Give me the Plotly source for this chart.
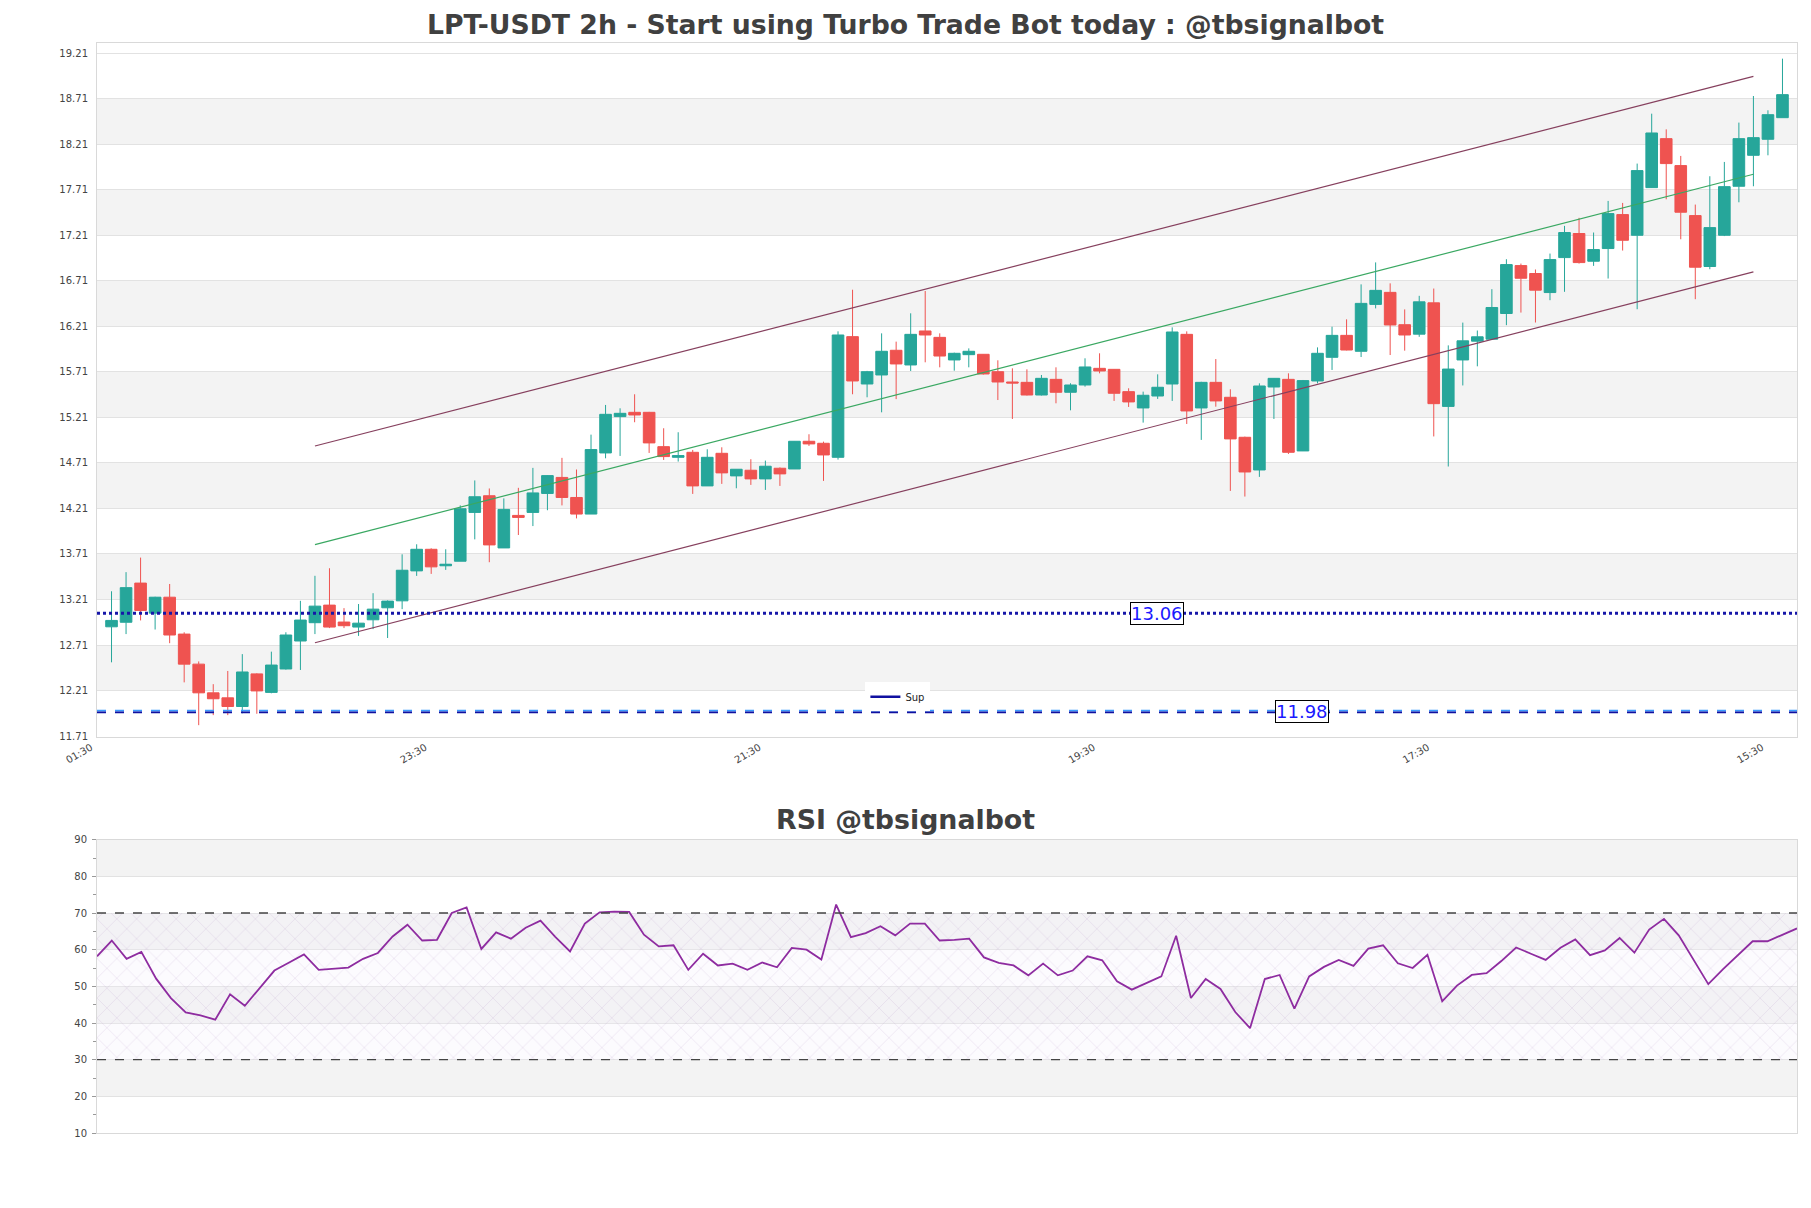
import pandas as pd
import plotly.graph_objects as go

# ---------------- data ----------------
first_candle = "2024-03-10 03:30"
n_candles = 116

opens = [12.91, 12.96, 13.39, 13.06, 13.235, 12.83, 12.50, 12.185, 12.13, 12.035,
         12.393, 12.19, 12.447, 12.754, 12.955, 13.148, 12.962, 12.907, 12.987, 13.119,
         13.195, 13.524, 13.761, 13.58, 13.63, 14.166, 14.349, 13.776, 14.133, 14.166,
         14.374, 14.55, 14.33, 14.148, 14.819, 15.218, 15.265, 15.265, 14.888, 14.771,
         14.826, 14.457, 14.815, 14.567, 14.629, 14.534, 14.651, 14.643, 14.947, 14.925,
         14.771, 16.096, 15.576, 15.675, 15.946, 15.785, 16.158, 16.088, 15.84, 15.898,
         15.902, 15.711, 15.598, 15.594, 15.455, 15.627, 15.485, 15.565, 15.748, 15.737,
         15.492, 15.313, 15.444, 15.576, 16.121, 15.313, 15.594, 15.43, 14.991, 14.632,
         15.543, 15.627, 14.841, 15.609, 15.869, 16.11, 15.935, 16.45, 16.582, 16.227,
         16.123, 16.467, 15.33, 15.84, 16.046, 16.068, 16.35, 16.876, 16.789, 16.58,
         16.964, 17.228, 16.924, 17.063, 17.436, 17.209, 17.732, 18.27, 17.974, 17.425,
         16.866, 17.209, 17.747, 18.087, 18.263, 18.50]
highs = [13.30, 13.51, 13.67, 13.24, 13.38, 12.85, 12.53, 12.28, 12.425, 12.61,
         12.40, 12.637, 12.85, 13.195, 13.47, 13.553, 13.115, 13.16, 13.279, 13.20,
         13.706, 13.816, 13.772, 13.761, 14.243, 14.517, 14.429, 14.32, 14.436, 14.655,
         14.575, 14.765, 14.637, 15.02, 15.346, 15.309, 15.463, 15.27, 15.09, 15.046,
         14.852, 14.859, 14.881, 14.64, 14.75, 14.735, 14.66, 14.95, 15.024, 14.943,
         16.154, 16.611, 15.72, 16.132, 16.041, 16.352, 16.597, 16.132, 15.92, 15.967,
         15.905, 15.836, 15.748, 15.737, 15.675, 15.759, 15.584, 15.858, 15.913, 15.74,
         15.529, 15.492, 15.682, 16.198, 16.154, 15.60, 15.85, 15.518, 14.998, 15.583,
         15.64, 15.693, 15.62, 15.978, 16.205, 16.286, 16.67, 16.911, 16.681, 16.395,
         16.544, 16.624, 16.0, 16.25, 16.163, 16.617, 16.946, 16.898, 16.833, 17.008,
         17.312, 17.40, 17.239, 17.586, 17.564, 17.996, 18.544, 18.372, 18.08, 17.546,
         17.857, 18.014, 18.446, 18.738, 18.581, 19.148]
lows = [12.52, 12.83, 12.98, 12.88, 12.73, 12.30, 11.83, 11.94, 11.94, 11.96,
        11.955, 12.18, 12.44, 12.436, 12.83, 12.896, 12.896, 12.81, 12.885, 12.787,
        13.104, 13.469, 13.491, 13.535, 13.63, 13.87, 13.619, 13.776, 13.918, 14.016,
        14.19, 14.243, 14.10, 14.148, 14.76, 14.786, 15.156, 14.819, 14.742, 14.724,
        14.369, 14.457, 14.479, 14.431, 14.468, 14.413, 14.457, 14.643, 14.896, 14.512,
        14.746, 15.463, 15.43, 15.265, 15.41, 15.719, 15.814, 15.759, 15.722, 15.759,
        15.68, 15.40, 15.192, 15.45, 15.45, 15.364, 15.287, 15.547, 15.693, 15.39,
        15.324, 15.152, 15.412, 15.39, 15.137, 14.962, 15.327, 14.402, 14.34, 14.556,
        15.192, 14.808, 14.84, 15.583, 15.73, 15.945, 15.872, 16.406, 15.894, 15.942,
        16.094, 15.0, 14.67, 15.56, 15.77, 16.06, 16.222, 16.36, 16.251, 16.496,
        16.588, 16.898, 16.873, 16.734, 17.041, 16.397, 17.73, 17.604, 17.165, 16.507,
        16.836, 17.20, 17.571, 17.747, 18.087, 18.50]
closes = [12.98, 13.34, 13.09, 13.235, 12.82, 12.50, 12.185, 12.12, 12.035, 12.414,
          12.206, 12.49, 12.82, 12.984, 13.137, 12.907, 12.922, 12.95, 13.104, 13.192,
          13.531, 13.761, 13.568, 13.597, 14.206, 14.338, 13.809, 14.199, 14.111, 14.38,
          14.57, 14.33, 14.148, 14.856, 15.243, 15.254, 15.236, 14.929, 14.779, 14.79,
          14.457, 14.771, 14.60, 14.64, 14.534, 14.673, 14.589, 14.947, 14.918, 14.797,
          16.114, 15.609, 15.711, 15.935, 15.796, 16.121, 16.114, 15.883, 15.913, 15.935,
          15.686, 15.598, 15.587, 15.455, 15.638, 15.485, 15.565, 15.763, 15.719, 15.474,
          15.379, 15.452, 15.54, 16.147, 15.28, 15.594, 15.39, 14.973, 14.61, 15.554,
          15.638, 14.826, 15.613, 15.913, 16.11, 15.949, 16.461, 16.604, 16.224, 16.114,
          16.478, 15.36, 15.74, 16.05, 16.094, 16.416, 16.887, 16.737, 16.606, 16.942,
          17.239, 16.909, 17.052, 17.447, 17.154, 17.919, 18.332, 17.996, 17.462, 16.858,
          17.293, 17.743, 18.27, 18.281, 18.533, 18.753]

rsi = [58.2, 62.5, 57.5, 59.4, 52.1, 46.8, 42.9, 42.1, 40.9, 47.8,
       44.7, 49.4, 54.3, 56.5, 58.7, 54.5, 54.8, 55.1, 57.5, 59.1,
       63.6, 66.8, 62.5, 62.7, 70.0, 71.5, 60.2, 64.7, 63.0, 66.0,
       67.9, 63.5, 59.5, 67.1, 70.2, 70.4, 70.3, 64.1, 60.9, 61.2,
       54.5, 58.9, 55.7, 56.2, 54.5, 56.5, 55.2, 60.5, 60.0, 57.3,
       72.3, 63.4, 64.5, 66.4, 63.9, 67.1, 67.1, 62.5, 62.7, 63.0,
       57.9, 56.4, 55.7, 53.0, 56.2, 53.0, 54.3, 58.2, 57.1, 51.4,
       49.1, 50.9, 52.7, 63.8, 46.8, 52.0, 49.3, 43.0, 38.6, 52.0,
       53.1, 43.9, 52.7, 55.3, 57.2, 55.6, 60.3, 61.2, 56.3, 55.0,
       58.6, 45.9, 50.2, 53.1, 53.6, 56.9, 60.6, 58.9, 57.2, 60.5,
       62.8, 58.5, 59.8, 63.2, 59.2, 65.5, 68.4, 63.9, 57.4, 50.6,
       54.7, 58.5, 62.3, 62.3, 64.1, 65.8]

# channel lines (start candle index, end candle index, values)
channel_idx = [14, 113]
channel_upper = [14.895, 18.954]
channel_mid = [13.813, 17.879]
channel_lower = [12.735, 16.807]

resist_level = 13.06
support_level = 11.98
support_upper = 11.99
support_lower = 11.97

price_ticks = [11.71, 12.21, 12.71, 13.21, 13.71, 14.21, 14.71, 15.21, 15.71,
               16.21, 16.71, 17.21, 17.71, 18.21, 18.71, 19.21]
rsi_ticks = [10, 20, 30, 40, 50, 60, 70, 80, 90]
rsi_levels = [30, 70]

title_text = "LPT-USDT 2h - Start using Turbo Trade Bot today : @tbsignalbot"
rsi_title = "RSI @tbsignalbot"

# ---------------- build ----------------
times = pd.date_range(first_candle, periods=n_candles, freq="2h")
step = pd.Timedelta(hours=2)
x_start = times[0] - step
x_end = times[-1] + step

assert len(opens) == len(highs) == len(lows) == len(closes) == len(rsi) == n_candles

UP = "#26a69a"
DOWN = "#ef5350"
GRID = "#e2e2e2"
BAND = "#f3f3f3"
FRAME = "#d9d9d9"
FONT = "DejaVu Sans"

# page has an 8px body margin; figure is sized so the plot areas land in place
FIG_W, FIG_H = 1795, 1192

fig = go.Figure()

fig.add_trace(go.Candlestick(
    x=times, open=opens, high=highs, low=lows, close=closes,
    increasing=dict(line=dict(color=UP, width=1), fillcolor=UP),
    decreasing=dict(line=dict(color=DOWN, width=1), fillcolor=DOWN),
    showlegend=False, xaxis="x", yaxis="y", hoverinfo="skip"))

cx = [times[i] for i in channel_idx]
chan_col = "#86405e"
fig.add_trace(go.Scatter(x=cx, y=channel_upper, mode="lines",
                         line=dict(color=chan_col, width=1.2), showlegend=False))
fig.add_trace(go.Scatter(x=cx, y=channel_lower, mode="lines",
                         line=dict(color=chan_col, width=1.2), showlegend=False))
fig.add_trace(go.Scatter(x=cx, y=channel_mid, mode="lines",
                         line=dict(color="#3aa862", width=1.2), showlegend=False))

# horizontal levels
fig.add_trace(go.Scatter(x=[x_start, x_end], y=[resist_level] * 2, mode="lines",
                         line=dict(color="#1616a8", width=3, dash="dot"),
                         showlegend=False))
fig.add_trace(go.Scatter(x=[x_start, x_end], y=[support_upper] * 2, mode="lines",
                         line=dict(color="#3a9bff", width=1.6, dash="dash"),
                         showlegend=False))
fig.add_trace(go.Scatter(x=[x_start, x_end], y=[support_lower] * 2, mode="lines",
                         line=dict(color="#1010a0", width=1.6, dash="dash"),
                         showlegend=False))
# legend entry for the support line (solid marker in legend)
fig.add_trace(go.Scatter(x=[None], y=[None], mode="lines",
                         line=dict(color="#1010a0", width=2.5),
                         name="Sup", showlegend=True))

# RSI panel
fig.add_trace(go.Scatter(x=[times[0], times[-1]], y=[rsi_levels[0]] * 2, mode="lines",
                         line=dict(color="rgba(0,0,0,0)", width=0),
                         showlegend=False, xaxis="x2", yaxis="y2", hoverinfo="skip"))
fig.add_trace(go.Scatter(x=[times[0], times[-1]], y=[rsi_levels[1]] * 2, mode="lines",
                         line=dict(color="rgba(0,0,0,0)", width=0),
                         fill="tonexty", fillcolor="rgba(0,0,0,0)",
                         fillpattern=dict(shape="x", fgcolor="rgba(160,120,190,0.6)",
                                          bgcolor="rgba(245,238,250,0.25)",
                                          size=14, solidity=0.07),
                         showlegend=False, xaxis="x2", yaxis="y2", hoverinfo="skip"))
fig.add_trace(go.Scatter(x=times, y=rsi, mode="lines",
                         line=dict(color="#8e2ca0", width=1.8),
                         showlegend=False, xaxis="x2", yaxis="y2"))

shapes = []
# alternating bands, main chart
for k in range(len(price_ticks) - 1):
    if (len(price_ticks) - 2 - k) % 2 == 1:
        shapes.append(dict(type="rect", xref="x domain", yref="y", x0=0, x1=1,
                           y0=price_ticks[k], y1=price_ticks[k + 1],
                           fillcolor=BAND, line=dict(width=0), layer="below"))
for k in range(len(rsi_ticks) - 1):
    if (len(rsi_ticks) - 2 - k) % 2 == 0:
        shapes.append(dict(type="rect", xref="x2 domain", yref="y2", x0=0, x1=1,
                           y0=rsi_ticks[k], y1=rsi_ticks[k + 1],
                           fillcolor=BAND, line=dict(width=0), layer="below"))
for lv in rsi_levels:
    shapes.append(dict(type="line", xref="x2 domain", yref="y2", x0=0, x1=1,
                       y0=lv, y1=lv, line=dict(color="#444", width=1.3, dash="dash")))

annotations = [
    dict(text=str(resist_level), x=0.6234, xref="paper", y=resist_level, yref="y",
         xanchor="center", yanchor="middle",
         showarrow=False, font=dict(size=18, color="#1a1aff", family=FONT),
         bgcolor="white", bordercolor="black", borderwidth=1, borderpad=0),
    dict(text=str(support_level), x=0.7087, xref="paper", y=support_level, yref="y",
         xanchor="center", yanchor="middle",
         showarrow=False, font=dict(size=18, color="#1a1aff", family=FONT),
         bgcolor="white", bordercolor="black", borderwidth=1, borderpad=0),
    dict(text="<b>" + rsi_title + "</b>", x=0.4756, xref="paper", y=0.2874, yref="paper",
         showarrow=False, yanchor="middle", xanchor="center",
         font=dict(size=26.8, color="#404040", family=FONT)),
]

fig.update_layout(
    width=FIG_W, height=FIG_H,
    margin=dict(l=89, r=6, t=35, b=67),
    paper_bgcolor="white", plot_bgcolor="white",
    font=dict(family=FONT, color="#444"),
    title=dict(text="<b>" + title_text + "</b>", x=0.5, xref="container",
               y=1 - 17 / FIG_H, yref="container", yanchor="middle", xanchor="center",
               font=dict(size=26.7, color="#404040", family=FONT)),
    xaxis=dict(type="date", domain=[0, 1], anchor="y", range=[x_start, x_end],
               rangeslider=dict(visible=False), showgrid=False,
               tick0=x_start, dtick=46 * 3600 * 1000, tickformat="%H:%M",
               tickangle=-30, tickfont=dict(size=10, color="#444"),
               ticklabelshift=-6,
               showline=True, linecolor=FRAME, mirror=True, ticks=""),
    yaxis=dict(domain=[0.3633, 1], range=[11.70, 19.32], tickvals=price_ticks,
               ticktext=[f"{v:.2f}" for v in price_ticks],
               gridcolor=GRID, zeroline=False, showline=True, linecolor=FRAME,
               mirror=True, tickfont=dict(size=10, color="#444"), ticks="",
               ticklabelstandoff=6),
    xaxis2=dict(type="date", domain=[0, 1], anchor="y2", range=[times[0], times[-1]],
                showgrid=False, showticklabels=False, showline=True,
                linecolor=FRAME, mirror=True, ticks=""),
    yaxis2=dict(domain=[0, 0.2691], range=[10, 90], tickvals=rsi_ticks,
                gridcolor=GRID, zeroline=False, showline=True, linecolor=FRAME,
                mirror=True, tickfont=dict(size=10, color="#444"),
                ticks="outside", ticklen=4, tickcolor="#999", ticklabelstandoff=3,
                minor=dict(dtick=5, tick0=5, ticks="outside", ticklen=3,
                           tickcolor="#999", showgrid=False)),
    legend=dict(x=0.452, y=0.4135, xanchor="left", yanchor="top",
                bgcolor="white", font=dict(size=10, color="#222"),
                itemwidth=30, tracegroupgap=0),
    boxgap=0.2, boxgroupgap=0,
    shapes=shapes, annotations=annotations,
    hovermode=False,
)

fig.write_html("out.html")
